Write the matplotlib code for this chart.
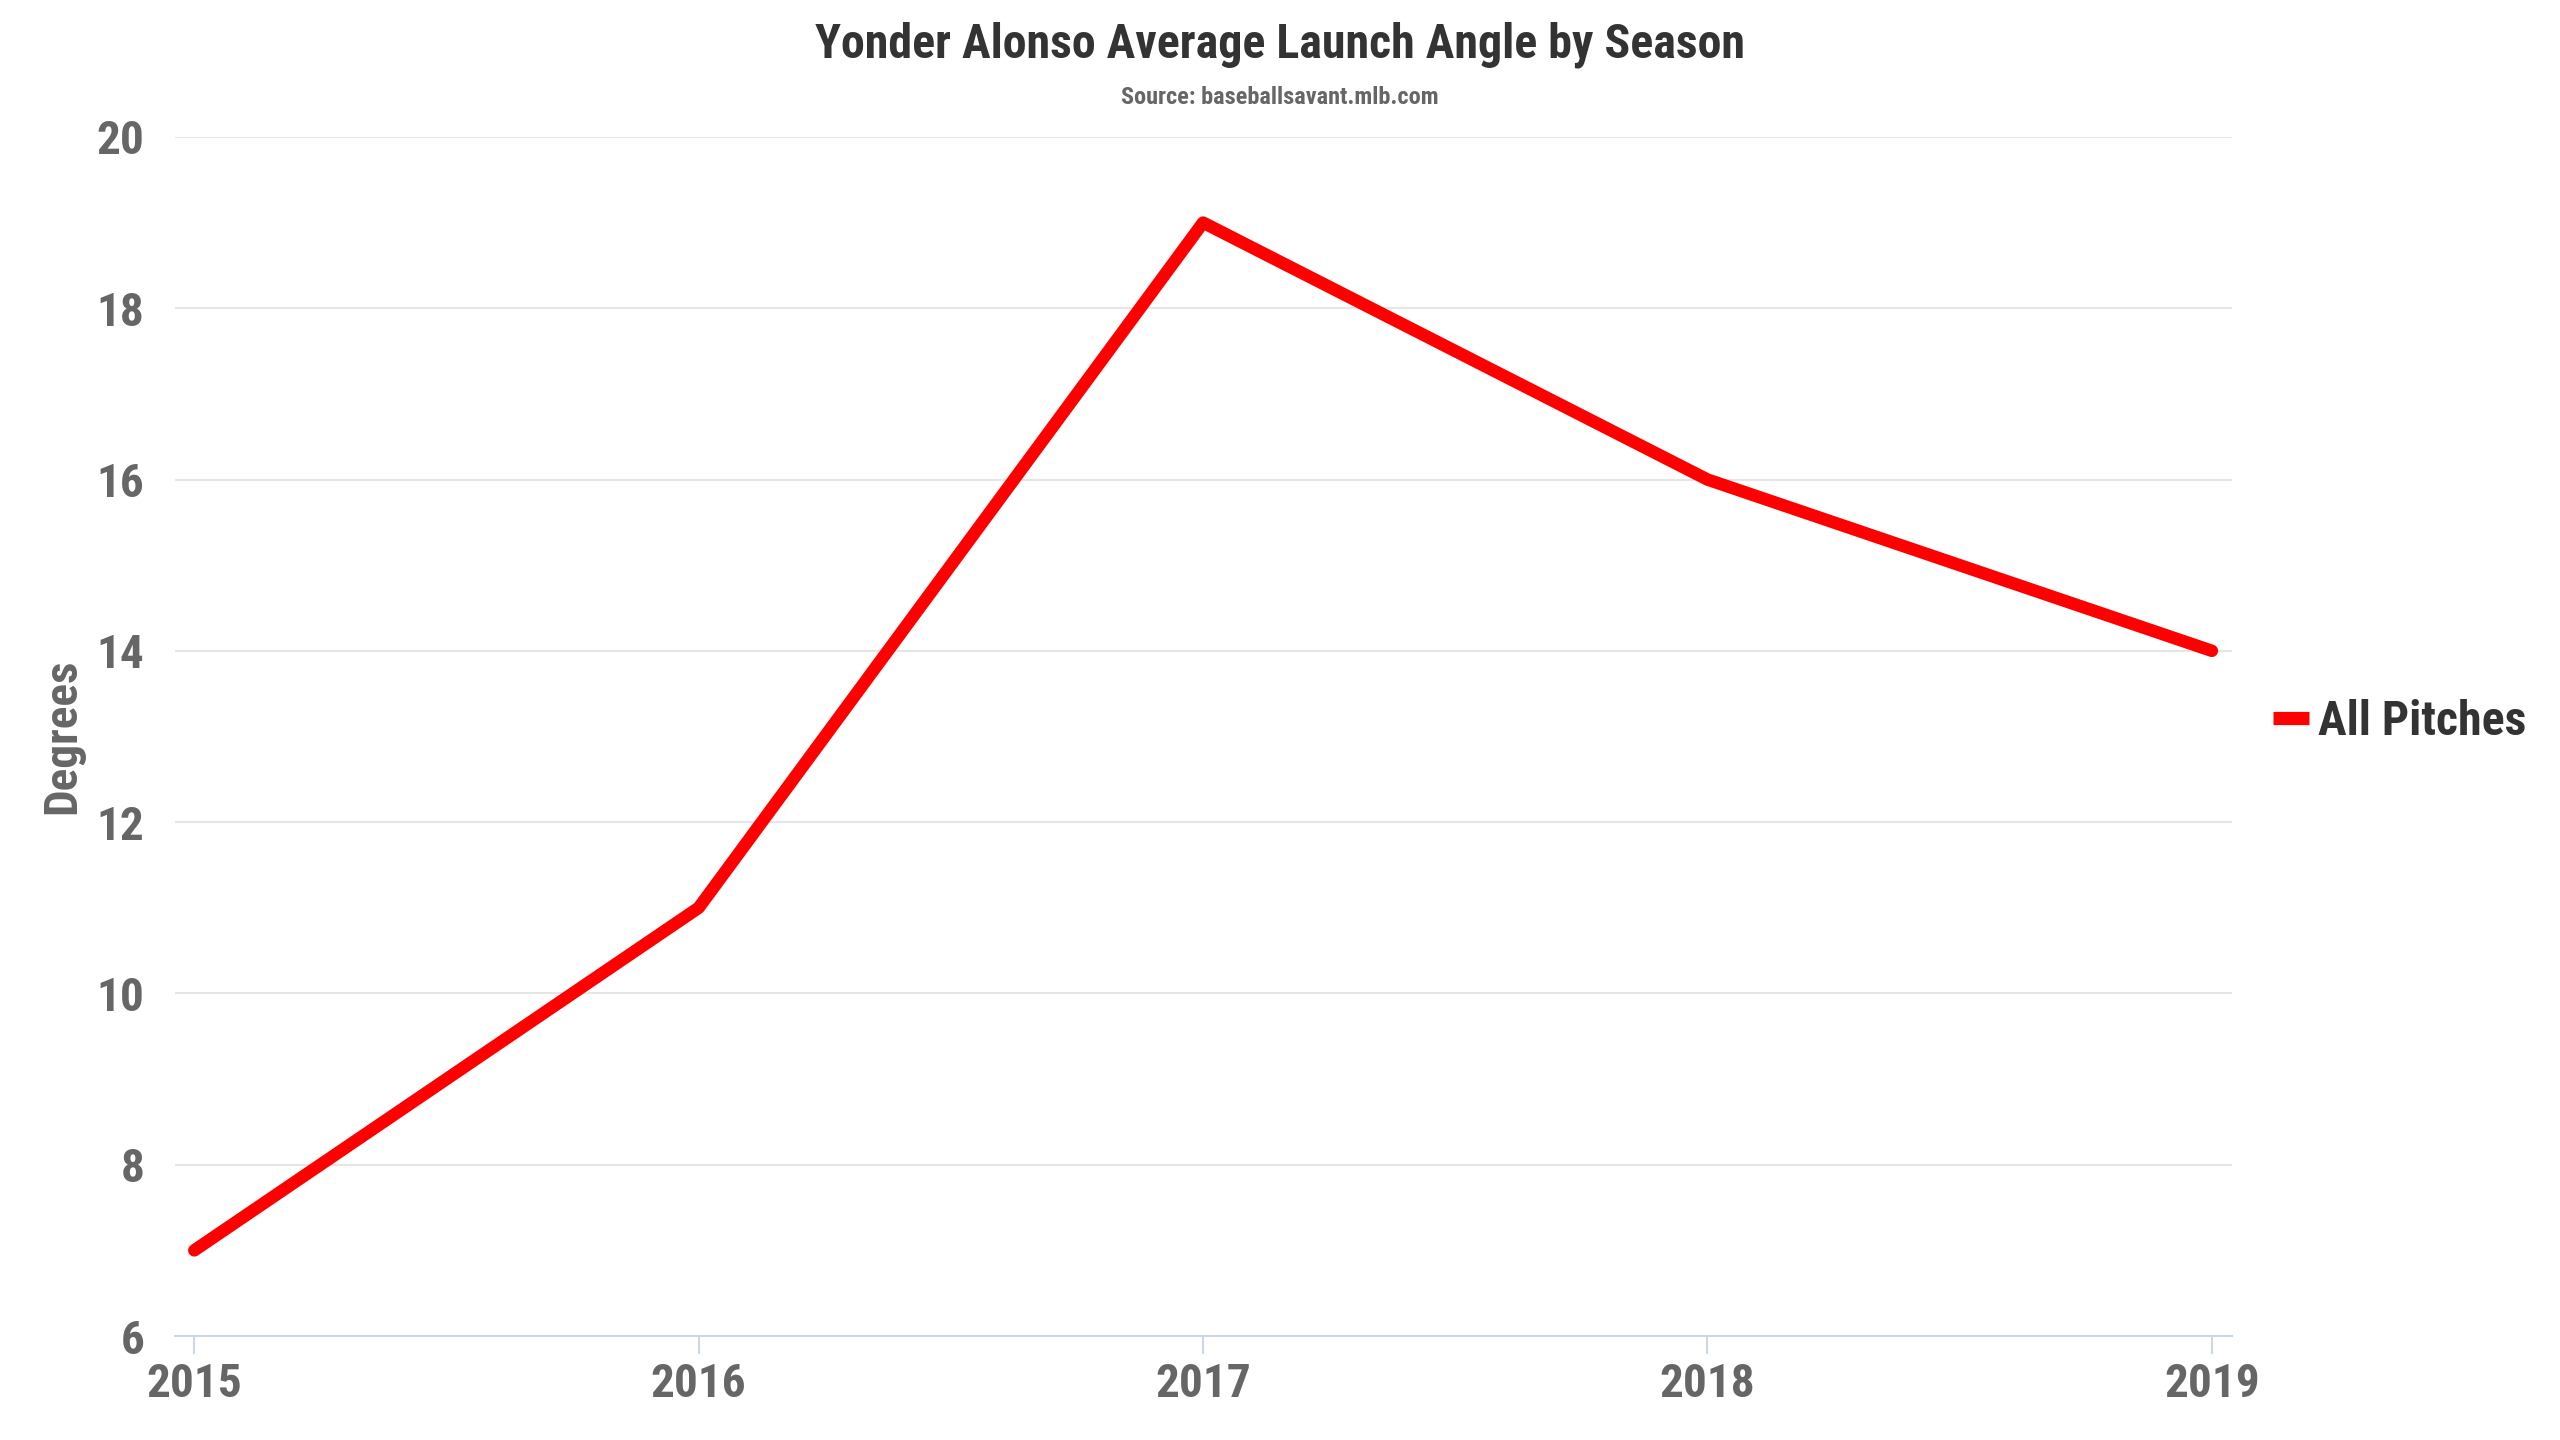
import matplotlib
matplotlib.use("Agg")
import matplotlib.pyplot as plt
from matplotlib import font_manager
from matplotlib.lines import Line2D

names = {f.name for f in font_manager.fontManager.ttflist}
FONT = "Roboto Condensed" if "Roboto Condensed" in names else "Roboto"
plt.rcParams['font.family'] = [FONT, 'DejaVu Sans']

# Data
seasons = [2015, 2016, 2017, 2018, 2019]
launch_angle = [7, 11, 19, 16, 14]
series_name = "All Pitches"
y_ticks = [6, 8, 10, 12, 14, 16, 18, 20]
title = "Yonder Alonso Average Launch Angle by Season"
subtitle = "Source: baseballsavant.mlb.com"
y_label = "Degrees"

fig = plt.figure(figsize=(25.6, 14.4), dpi=100)
ax = fig.add_axes([0.0684, 0.0722, 0.8035, 0.8327])

ax.plot(seasons, launch_angle, color="#ff0000", lw=9,
        solid_capstyle="round", solid_joinstyle="round", zorder=3)

ax.set_xlim(2014.962, 2019.04)
ax.set_ylim(6, 20)
ax.set_yticks(y_ticks)
ax.set_xticks(seasons)
ax.set_xticklabels([str(s) for s in seasons])
ax.grid(axis="y", color="#e6e6e6", lw=1.5)
ax.set_axisbelow(True)
for s in ["top", "right", "left"]:
    ax.spines[s].set_visible(False)
ax.spines["bottom"].set_color("#ccd6eb")
ax.spines["bottom"].set_linewidth(1.5)
ax.spines["bottom"].set_zorder(2)
ax.tick_params(axis="x", color="#ccd6eb", length=13, width=1.5,
               labelsize=34, labelcolor="#666666", pad=6)
ax.tick_params(axis="y", length=0, labelsize=34, labelcolor="#666666", pad=22)
for lab in ax.get_xticklabels() + ax.get_yticklabels():
    lab.set_fontweight("bold")

ax.set_ylabel(y_label, fontsize=34, fontweight="bold", color="#666666", labelpad=9)

fig.text(0.5, 0.969, title, ha="center", va="center", fontsize=34.5,
         fontweight="bold", color="#333333")
fig.text(0.5, 0.932, subtitle, ha="center", va="center", fontsize=17.5,
         fontweight="bold", color="#666666")

handle = Line2D([0], [0], color="#ff0000", lw=9.5, solid_capstyle="butt")
leg = fig.legend([handle], [series_name], loc="center left",
                 bbox_to_anchor=(0.871, 0.4986), frameon=False,
                 handlelength=0.75, handletextpad=0.2,
                 prop={"size": 34.5, "weight": "bold"})
for t in leg.get_texts():
    t.set_color("#333333")

fig.savefig("out.png", dpi=100, facecolor="white")
